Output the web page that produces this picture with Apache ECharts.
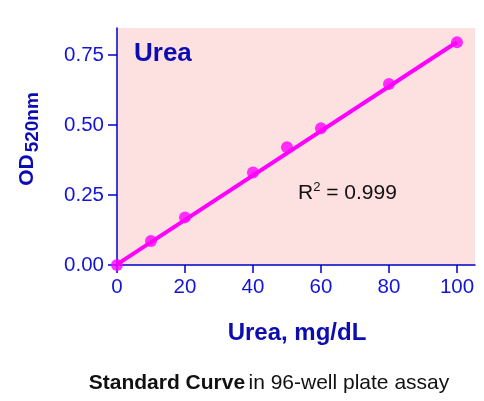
<!DOCTYPE html>
<html>
<head>
<meta charset="utf-8">
<script src="https://cdn.jsdelivr.net/npm/echarts@6/dist/echarts.min.js"></script>
<style>
	html, body { margin: 0; padding: 0; background: #fff; }
	#chart { width: 484px; height: 401px; }
</style>
</head>
<body>
<div id="chart"></div>
<script>
// standards, mg/dL and OD at 520 nm
var ureaConc = [0, 10, 20, 40, 50, 60, 80, 100];
var odValues = [0.000, 0.086, 0.170, 0.330, 0.420, 0.488, 0.646, 0.795];

// linear fit drawn through the standards
var fitX = [0, 100];
var fitY = [0.002, 0.796];

var xTicks = [0, 20, 40, 60, 80, 100];
var yTicks = [0, 0.25, 0.5, 0.75];

var FONT = '"Liberation Sans", Arial, sans-serif';
var BLUE = '#1414d8';
var DARKBLUE = '#0c0cb0';

function pairs(xs, ys) {
	var out = [];
	for (var i = 0; i < xs.length; i++) {
		out.push([xs[i], ys[i]]);
	}
	return out;
}

var mychart = echarts.init(document.getElementById('chart'));

var option = {
	animation: false,
	grid: {
		left: 117, top: 28, right: 9, bottom: 136,
		show: true, backgroundColor: '#fde0e0', borderWidth: 0
	},
	xAxis: {
		type: 'value', min: 0, max: 105.3,
		splitLine: { show: false },
		axisLine: { lineStyle: { color: '#0000c8', width: 1.5 } },
		axisTick: { length: 8, customValues: xTicks, lineStyle: { color: '#0000c8', width: 1.5 } },
		axisLabel: {
			customValues: xTicks, margin: 12,
			color: BLUE, fontSize: 20.5, fontFamily: FONT
		}
	},
	yAxis: {
		type: 'value', min: 0, max: 0.846,
		splitLine: { show: false },
		axisLine: { show: true, lineStyle: { color: '#0000c8', width: 1.5 } },
		axisTick: { show: true, length: 9, customValues: yTicks, lineStyle: { color: '#0000c8', width: 1.5 } },
		axisLabel: {
			customValues: yTicks, margin: 13,
			color: BLUE, fontSize: 20.5, fontFamily: FONT,
			formatter: function (v) { return v.toFixed(2); }
		}
	},
	series: [
		{
			type: 'line',
			data: pairs(fitX, fitY),
			showSymbol: false,
			lineStyle: { color: '#ff00ff', width: 4 },
			z: 2
		},
		{
			type: 'scatter',
			data: pairs(ureaConc, odValues),
			symbolSize: 12,
			itemStyle: { color: '#ff00ff' },
			z: 3
		}
	],
	graphic: [
		{
			type: 'text', left: 134, top: 41,
			style: { text: 'Urea', fill: DARKBLUE, font: 'bold 26px ' + FONT }
		},
		{
			type: 'text', x: 297, y: 333,
			style: {
				text: 'Urea, mg/dL', fill: DARKBLUE, font: 'bold 24px ' + FONT,
				align: 'center', verticalAlign: 'middle'
			}
		},
		{
			type: 'text', x: 27, y: 139, rotation: Math.PI / 2,
			style: {
				text: '{m|OD}{s|520nm}',
				align: 'center', verticalAlign: 'middle',
				rich: {
					m: { fill: DARKBLUE, fontSize: 21, fontWeight: 'bold', fontFamily: FONT, lineHeight: 30 },
					s: { fill: DARKBLUE, fontSize: 19, fontWeight: 'bold', fontFamily: FONT, lineHeight: 30, padding: [12, 0, 0, 2] }
				}
			}
		},
		{
			type: 'text', x: 298, y: 193,
			style: {
				text: '{r|R}{p|2}{r| = 0.999}',
				verticalAlign: 'middle',
				rich: {
					r: { fill: '#111', fontSize: 21, fontFamily: FONT, lineHeight: 28 },
					p: { fill: '#111', fontSize: 13, fontFamily: FONT, lineHeight: 28, padding: [0, 0, 12, 0] }
				}
			}
		},
		{
			type: 'text', x: 269, y: 383,
			style: {
				text: '{b|Standard Curve} {n|in 96-well plate assay}',
				align: 'center', verticalAlign: 'middle',
				rich: {
					b: { fill: '#111', fontSize: 21, fontWeight: 'bold', fontFamily: FONT },
					n: { fill: '#111', fontSize: 21, fontFamily: FONT }
				}
			}
		}
	]
};

mychart.setOption(option, false);
</script>
</body>
</html>
